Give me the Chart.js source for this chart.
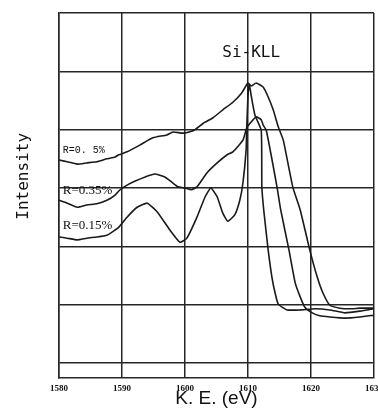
<!DOCTYPE html>
<html><head><meta charset="utf-8">
<script src="https://cdn.jsdelivr.net/npm/chart.js@4"></script>
<style>html,body{margin:0;padding:0;background:#fff;overflow:hidden;width:378px;height:410px}canvas{display:block}</style>
</head><body><canvas id="c" width="378" height="410"></canvas>
<script>
const xTickLabels = ['1580','1590','1600','1610','1620','1630'];
const seriesNames = ['R=0. 5%','R=0.35%','R=0.15%'];
const yTitle = 'Intensity';

const ev05  = [1580,1581.3,1582.9,1584.4,1586.0,1587.6,1588.9,1589.5,1590.8,1592.9,1594.9,1597.1,1598.1,1599.7,1601.3,1602.9,1604.4,1606.0,1607.6,1609.0,1610.0,1610.5,1611.3,1612.4,1613.2,1614.0,1614.8,1615.6,1617.1,1618.3,1619.8,1621.0,1621.9,1623.0,1624.6,1626.2,1627.8,1630];
const int05 = [3.48,3.45,3.41,3.43,3.45,3.50,3.53,3.57,3.62,3.74,3.86,3.91,3.96,3.94,3.98,4.11,4.20,4.34,4.47,4.63,4.80,4.75,4.80,4.73,4.56,4.34,4.05,3.82,3.02,2.62,1.94,1.47,1.20,0.99,0.94,0.93,0.94,0.94];

const ev035  = [1580,1581.3,1582.9,1584.4,1586.0,1587.6,1588.9,1589.7,1590.8,1592.1,1593.7,1595.2,1596.8,1597.9,1598.9,1600.0,1601.0,1601.9,1603.5,1605.1,1606.7,1607.6,1609.2,1609.8,1610.5,1611.3,1612.1,1612.4,1612.9,1614.6,1615.2,1616.5,1617.5,1618.3,1619.0,1620.2,1621.4,1623.0,1625.4,1627.8,1630];
const int035 = [2.79,2.74,2.67,2.71,2.73,2.79,2.88,2.97,3.05,3.12,3.19,3.24,3.19,3.10,3.02,3.00,2.97,3.02,3.26,3.43,3.57,3.62,3.82,4.03,4.13,4.22,4.17,4.08,3.99,3.02,2.62,1.94,1.37,1.13,0.96,0.86,0.81,0.79,0.77,0.79,0.82];

const ev015  = [1580,1581.3,1582.9,1584.4,1586.0,1587.6,1588.9,1589.5,1590.8,1592.4,1594.0,1595.6,1597.6,1599.2,1600.3,1601.9,1603.2,1604.1,1605.1,1606.0,1606.8,1607.9,1608.7,1609.2,1609.7,1609.8,1610.0,1610.2,1610.5,1611.1,1612.1,1612.2,1612.5,1613.2,1613.8,1614.3,1614.8,1616.2,1618.3,1620.6,1623.0,1625.4,1627.8,1630];
const int015 = [2.16,2.14,2.11,2.14,2.16,2.19,2.28,2.33,2.50,2.67,2.74,2.59,2.28,2.07,2.14,2.50,2.85,3.00,2.85,2.57,2.43,2.54,2.79,3.09,3.65,4.03,4.59,4.78,4.59,4.25,3.99,3.02,2.62,1.94,1.47,1.20,1.01,0.91,0.91,0.93,0.91,0.86,0.89,0.93];

const labelX = [1580.6,1580.6,1580.6];
const labelY = [3.65,2.95,2.35];
const peakName = 'Si-KLL';

function pts(xs, ys){ return xs.map((x,i)=>({x:x,y:ys[i]})); }
const lineStyle = {borderColor:'#1a1a1a',borderWidth:1.6,pointRadius:0,tension:0.15,fill:false};

const textPlugin = {
  id:'texts',
  afterDatasetsDraw(chart){
    const ctx = chart.ctx, xs = chart.scales.x, ys = chart.scales.y;
    ctx.save();
    ctx.fillStyle = '#111';
    ctx.textBaseline = 'middle';
    ctx.textAlign = 'left';
    const fonts = ['10px "Liberation Mono"','13px "Liberation Serif"','13px "Liberation Serif"'];
    seriesNames.forEach((n,i)=>{
      ctx.font = fonts[i];
      ctx.fillText(n, xs.getPixelForValue(labelX[i]), ys.getPixelForValue(labelY[i]));
    });
    ctx.font = '16px "DejaVu Sans Mono"';
    ctx.textAlign = 'center';
    ctx.fillText(peakName, xs.getPixelForValue(1610.5), ys.getPixelForValue(5.31));
    ctx.translate(24, ys.getPixelForValue(3.2));
    ctx.rotate(-Math.PI/2);
    ctx.font = '16px "DejaVu Sans Mono"';
    ctx.fillText(yTitle, 0, 0);
    ctx.restore();
  }
};

new Chart(document.getElementById('c'), {
  type:'line',
  data:{datasets:[
    Object.assign({label:seriesNames[0],data:pts(ev05,int05)},lineStyle),
    Object.assign({label:seriesNames[1],data:pts(ev035,int035)},lineStyle),
    Object.assign({label:seriesNames[2],data:pts(ev015,int015)},lineStyle)
  ]},
  options:{
    responsive:false, animation:false, devicePixelRatio:1,
    layout:{padding:{top:13,right:4,left:0,bottom:0}},
    plugins:{legend:{display:false},tooltip:{enabled:false}},
    scales:{
      x:{type:'linear',min:1580,max:1630,
        ticks:{stepSize:10,padding:5,color:'#111',font:{family:'"Liberation Serif"',size:9,weight:'bold'},
          maxRotation:0,autoSkip:false,
          callback:(v)=>xTickLabels[Math.round((v-1580)/10)]||''},
        grid:{color:'#262626',lineWidth:1.5,drawTicks:false},
        border:{color:'#262626',width:1.5},
        title:{display:true,text:'K. E. (eV)',color:'#111',font:{family:'"Liberation Sans"',size:19},padding:{top:0,bottom:0}},
        afterFit:(s)=>{s.height=32;s.paddingLeft=0;s.paddingRight=0;}
      },
      y:{type:'linear',min:-0.257,max:6,
        ticks:{display:false,stepSize:1},
        afterBuildTicks:(s)=>{s.ticks=[0,1,2,3,4,5,6].map(v=>({value:v}));},
        grid:{color:'#262626',lineWidth:1.5,drawTicks:false},
        border:{color:'#262626',width:1.5},
        title:{display:false},
        afterFit:(s)=>{s.width=59;s.paddingTop=0;s.paddingBottom=0;}
      }
    }
  },
  plugins:[textPlugin]
});
</script>
</body></html>
